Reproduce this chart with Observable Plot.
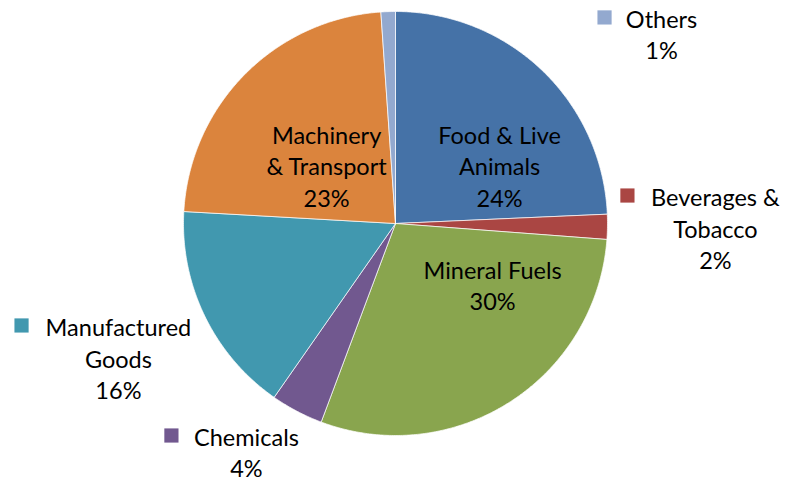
<!DOCTYPE html>
<html>
<head>
<meta charset="utf-8">
<script src="https://cdn.jsdelivr.net/npm/d3@7"></script>
<script src="https://cdn.jsdelivr.net/npm/@observablehq/plot@0.6"></script>
<style>
  html, body { margin: 0; padding: 0; background: #fff; }
  #chart svg { display: block; }
</style>
</head>
<body>
<div id="chart"></div>
<script>
// ---- data ----
const categories = ["Food & Live Animals", "Beverages & Tobacco", "Mineral Fuels", "Chemicals", "Manufactured Goods", "Machinery & Transport", "Others"];
const values = [24.3, 1.9, 29.5, 4.0, 16.2, 23.0, 1.1];
const percentLabels = ["24%", "2%", "30%", "4%", "16%", "23%", "1%"];
const labelText = ["Food & Live\nAnimals", "Beverages &\nTobacco", "Mineral Fuels", "Chemicals", "Manufactured\nGoods", "Machinery\n& Transport", "Others"];
const hasKey = [false, true, false, true, true, false, true];
const colors = ["#4572A7", "#AA4643", "#89A54E", "#71588F", "#4198AF", "#DB843D", "#93A9CF"];

// ---- layout (label anchors in chart units, pie radius = 1) ----
const labelAt = [[0.491, 0.274], [1.509, -0.020], [0.458, -0.288], [-0.703, -1.075], [-1.307, -0.632], [-0.325, 0.274], [1.255, 0.896]];
const keyAt = [null, [1.094, 0.132], null, [-1.057, -1.0], [-1.764, -0.481], null, [0.986, 0.972]];

// ---- build slices with d3.pie (start at 12 o'clock, clockwise) ----
const pie = d3.pie().sort(null).value(d => d)(values);
const slicePts = [];
pie.forEach((a, i) => {
  const name = categories[i];
  slicePts.push({name, x: 0, y: 0});
  const steps = Math.max(2, Math.ceil((a.endAngle - a.startAngle) / (Math.PI / 360)));
  for (let k = 0; k <= steps; k++) {
    const t = a.startAngle + (a.endAngle - a.startAngle) * k / steps;
    slicePts.push({name, x: Math.sin(t), y: Math.cos(t)});
  }
  slicePts.push({name, x: 0, y: 0});
});

const labels = categories.map((c, i) => ({
  name: c,
  text: labelText[i] + "\n" + percentLabels[i],
  x: labelAt[i][0],
  y: labelAt[i][1]
}));
const keys = categories.map((c, i) => hasKey[i] ? {name: c, x: keyAt[i][0], y: keyAt[i][1]} : null).filter(d => d);

const fontFamily = "Lato, 'Open Sans', 'Liberation Sans', sans-serif";

const chart = Plot.plot({
  width: 787,
  height: 482,
  marginLeft: 183,
  marginRight: 180,
  marginTop: 11,
  marginBottom: 47,
  x: {domain: [-1, 1], axis: null},
  y: {domain: [-1, 1], axis: null},
  color: {domain: categories, range: colors},
  style: {fontFamily, background: "#fff", overflow: "visible"},
  marks: [
    Plot.line(slicePts, {x: "x", y: "y", z: "name", fill: "name", stroke: "#ffffff", strokeWidth: 1, strokeOpacity: 0.7, curve: "linear"}),
    Plot.text(labels, {x: "x", y: "y", text: "text", fontSize: 23.5, lineHeight: 1.34, fill: "#000", fontFamily}),
    Plot.dot(keys, {x: "x", y: "y", fill: "name", symbol: "square", r: 8, stroke: null})
  ]
});
document.getElementById("chart").appendChild(chart);
</script>
</body>
</html>
